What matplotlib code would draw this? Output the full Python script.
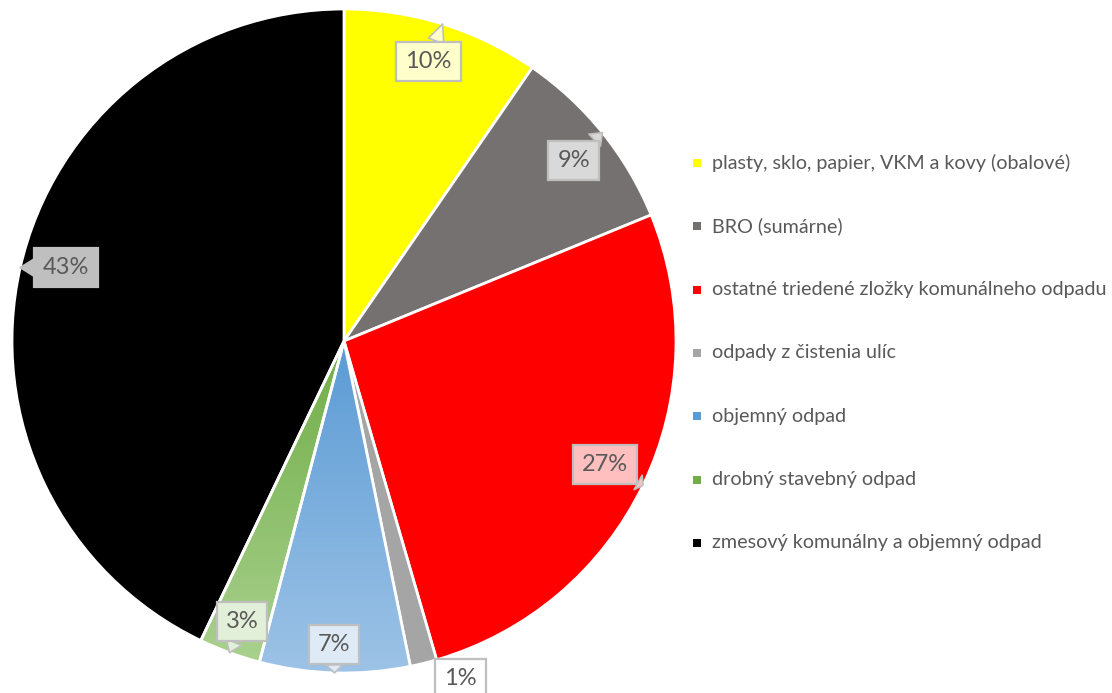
import numpy as np
import matplotlib
matplotlib.use("Agg")
import matplotlib.pyplot as plt
from matplotlib.patches import Wedge, Rectangle
from matplotlib.colors import LinearSegmentedColormap

# ---- data ----
categories = [
    "plasty, sklo, papier, VKM a kovy (obalové)",
    "BRO (sumárne)",
    "ostatné triedené zložky komunálneho odpadu",
    "odpady z čistenia ulíc",
    "objemný odpad",
    "drobný stavebný odpad",
    "zmesový komunálny a objemný odpad",
]
values = [9.6, 9.2, 26.7, 1.3, 7.3, 3.0, 42.9]

# ---- styles / layout ----
colors_top = ["#FFFF00", "#767171", "#FF0000", "#A5A5A5", "#5B9BD5", "#70AD47", "#000000"]
colors_bot = ["#FFFF00", "#767171", "#FF0000", "#A5A5A5", "#9DC3E6", "#A9D18E", "#000000"]
box_fill = ["#FFFFCC", "#D9D9D9", "#FFBFBF", "#FFFFFF", "#DEEBF7", "#E2F0D9", "#BFBFBF"]
label_r = [0.88, 0.88, 0.87, 1.074, 0.915, 0.90, 0.865]
label_shift = [0.5, -0.7, 0.5, 5.2, -0.3, 0.2, -2.0]
tip_r = [1.0, 1.0, 1.0, 1.0, 1.0, 1.0, 1.0]
tip_shift = [0, 0, 0, 2.5, 0, 0, 0]

FONT = "Lato"
TXT = "#595959"

fig = plt.figure(figsize=(11.12, 6.93), dpi=100)
W, H = 1112, 693
cx, cy, R = 344, 341, 332
ax = fig.add_axes([(cx - R) / W, (H - cy - R) / H, 2 * R / W, 2 * R / H])
ax.set_xlim(-1, 1)
ax.set_ylim(-1, 1)
ax.set_aspect("equal")
ax.axis("off")

total = sum(values)
start = 90.0
mids = []
for i, v in enumerate(values):
    sweep = 360.0 * v / total
    t1, t2 = start - sweep, start
    mids.append(np.deg2rad((t1 + t2) / 2))
    if colors_top[i] == colors_bot[i]:
        w = Wedge((0, 0), 1.0, t1, t2, facecolor=colors_top[i], edgecolor="white", linewidth=2, zorder=2)
        ax.add_patch(w)
    else:
        w = Wedge((0, 0), 1.0, t1, t2, facecolor="none", edgecolor="white", linewidth=2, zorder=3)
        ax.add_patch(w)
        cmap = LinearSegmentedColormap.from_list("g", [colors_bot[i], colors_top[i]])
        grad = np.linspace(0, 1, 256).reshape(-1, 1)
        angs = np.linspace(np.deg2rad(t1), np.deg2rad(t2), 50)
        ys = np.concatenate([[0], np.sin(angs)])
        ymin, ymax = ys.min(), ys.max()
        im = ax.imshow(grad, cmap=cmap, origin="lower", extent=[-1, 1, ymin, ymax],
                       aspect="auto", zorder=2)
        clip = Wedge((0, 0), 1.0, t1, t2, transform=ax.transData)
        im.set_clip_path(clip)
    start = t1

ax.set_xlim(-1, 1)
ax.set_ylim(-1, 1)

for i, v in enumerate(values):
    a = mids[i] + np.deg2rad(label_shift[i])
    bx, by = label_r[i] * np.cos(a), label_r[i] * np.sin(a)
    ta = mids[i] + np.deg2rad(tip_shift[i])
    tx, ty = tip_r[i] * np.cos(ta), tip_r[i] * np.sin(ta)
    ax.annotate(f"{v:.0f}%", xy=(tx, ty), xytext=(bx, by), ha="center", va="center",
                fontsize=17, color=TXT, family=FONT, zorder=5,
                bbox=dict(boxstyle="square,pad=0.38", fc=box_fill[i], ec="#BFBFBF", lw=1.6),
                arrowprops=dict(arrowstyle="wedge,tail_width=0.7,shrink_factor=0.5",
                                fc=box_fill[i], ec="#BFBFBF", lw=1.2, shrinkA=0, shrinkB=0),
                annotation_clip=False)

# ---- legend ----
leg_x = 697
leg_y0 = 163
leg_dy = 63.3
for i, c in enumerate(categories):
    y = leg_y0 + i * leg_dy
    fig.patches.append(Rectangle(((leg_x - 4) / W, 1 - (y + 4) / H), 8 / W, 8 / H,
                                 transform=fig.transFigure, facecolor=colors_top[i],
                                 edgecolor="none"))
    fig.text((leg_x + 15) / W, 1 - y / H, c, ha="left", va="center",
             fontsize=14.2, color=TXT, family=FONT)

fig.savefig("out.png", dpi=100)
